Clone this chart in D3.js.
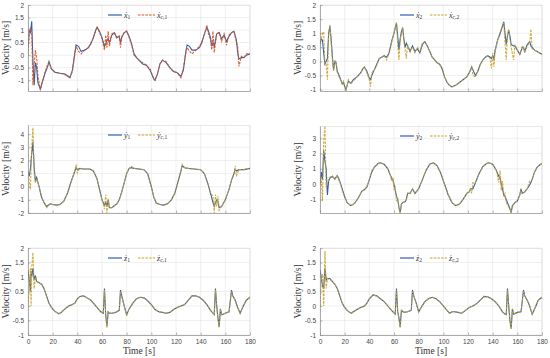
<!DOCTYPE html>
<html>
<head>
<meta charset="utf-8">
<script src="https://cdn.jsdelivr.net/npm/d3@7"></script>
<style>
body { margin: 0; background: #fff; }
svg { display: block; }
</style>
</head>
<body>
<svg id="chart" width="550" height="358"></svg>
<script>
// time ticks, shared by all panels
var timeTicks = [0, 20, 40, 60, 80, 100, 120, 140, 160, 180];
var ticksHalf = [-1, -0.5, 0, 0.5, 1, 1.5, 2];
var ticksY1 = [-2, -1, 0, 1, 2, 3, 4];
var ticksY2 = [-1, 0, 1, 2, 3];

// panel 1 : x velocity, robot 1
var t1 = [0,1,2,3,4,5,6,7,8,10, 12,14,16,17,19,22,26,30,33,34, 36,38,39,41,43,46,49,51,53,55,
  56,58,60,62,63,64,65,66,68,70, 72,74,75,76,78,80,82,84,86,88, 90,93,96,99,102,103,105,107,109,112,
  115,118,121,124,126,128,129,131,133,136, 139,141,143,145,146,148,149,150,151,153,
  155,157,159,161,163,165,167,169,170,171, 173,175,177,180];
var x1 = [0.3,1.0,0.9,1.35,-0.2,-1.2,-0.3,-0.5,-1.1,-1.35, -1.0,-0.7,-0.45,-0.25,-0.55,-0.68,-0.72,-0.75,-0.85,-0.9,
  -0.6,0.1,0.4,0.35,0.15,0.2,0.3,0.45,0.7,1.0, 1.1,0.95,0.7,0.35,0.45,0.6,0.65,0.5,0.8,0.9,
  0.7,0.75,0.5,0.7,0.9,0.95,0.75,0.45,0.05,-0.1, -0.2,-0.35,-0.4,-0.6,-0.95,-1.0,-0.75,-0.35,-0.2,-0.3,
  -0.5,-0.65,-0.7,-0.85,-0.6,0.15,0.4,0.35,0.2,0.2, 0.3,0.5,0.85,1.1,1.0,0.7,0.35,0.5,0.35,0.85,
  0.9,0.65,0.8,0.55,0.75,0.9,0.95,0.6,0.1,-0.15, -0.1,-0.1,0.0,0.05];
var xc1 = [0.0,0.8,1.1,0.9,-1.2,-0.4,0.2,-0.1,-0.8,-1.4, -1.0,-0.65,-0.35,-0.3,-0.55,-0.7,-0.72,-0.78,-0.88,-0.9,
  -0.65,0.05,0.35,0.15,0.05,0.2,0.3,0.5,0.7,1.0, 1.15,0.9,0.65,0.2,0.8,0.3,0.95,0.35,0.85,0.9,
  0.65,0.8,0.3,0.75,0.9,0.97,0.7,0.4,0.0,-0.1, -0.2,-0.3,-0.4,-0.55,-0.95,-1.0,-0.75,-0.35,-0.2,-0.25,
  -0.5,-0.65,-0.7,-0.9,-0.5,0.1,0.3,0.15,0.05,0.2, 0.35,0.55,0.8,1.2,0.9,0.6,0.2,0.95,0.1,0.85,
  0.9,0.55,0.85,0.4,0.8,0.9,0.95,0.5,0.35,-0.45, -0.05,-0.1,0.05,0.05];

// panel 2 : x velocity, robot 2
var t2 = [0,1,2,3,4,5,6,7,8,9, 10,11,12,13,14,16,18,19,21,23, 25,27,30,33,35,36,38,40,41,42,
  44,46,48,50,52,54,56,58,60,62, 63,64,65,66,67,68,69,70,71,73, 75,77,79,81,83,85,87,89,91,93,
  95,97,99,101,103,105,107,110,113,116, 119,121,122,123,124,126,128,130,132,134,
  136,138,139,140,141,142,144,146,148,149, 150,151,152,153,154,155,157,158,160,162,
  164,165,166,168,170,171,172,174,176,178, 180];
var x2 = [0.6,0.8,0.75,0.3,-0.1,0.0,0.1,1.0,1.25,0.8, 0.2,-0.3,0.0,-0.05,-0.35,-0.55,-0.8,-0.75,-1.0,-0.7,
  -0.78,-0.65,-0.55,-0.4,-0.25,-0.2,-0.35,-0.6,-0.65,-0.5, -0.3,-0.1,0.1,0.15,0.2,0.15,0.3,0.7,1.0,1.35,
  0.9,0.4,0.8,1.05,1.2,0.8,0.5,0.65,0.55,0.35, 0.55,0.35,0.45,0.3,0.6,0.7,0.55,0.35,0.15,0.05,
  -0.05,-0.1,-0.25,-0.55,-0.75,-0.85,-0.9,-0.85,-0.75,-0.65, -0.55,-0.4,-0.3,-0.2,-0.3,-0.5,-0.35,-0.1,0.05,0.15,
  0.2,0.15,0.1,0.2,0.1,0.4,0.75,1.0,1.25,1.4, 1.0,0.6,0.9,1.1,0.9,0.6,0.55,0.55,0.4,0.25,
  0.5,0.5,0.35,0.6,0.7,0.55,0.5,0.4,0.35,0.3, 0.25];
var xc2 = [0.8,0.75,1.0,1.05,-0.1,-0.1,-0.65,0.9,1.3,0.7, 0.1,-0.35,0.05,0.0,-0.4,-0.6,-0.8,-0.7,-1.05,-0.65,
  -0.8,-0.7,-0.55,-0.4,-0.25,-0.2,-0.4,-0.65,-0.9,-0.4, -0.3,-0.15,0.1,0.15,0.2,0.05,0.3,0.65,1.0,1.4,
  0.6,0.05,0.75,1.0,1.2,0.7,0.4,0.1,0.6,0.35, 0.5,0.3,0.5,0.35,0.65,0.7,0.55,0.35,0.15,0.05,
  -0.05,-0.1,-0.3,-0.55,-0.75,-0.85,-0.9,-0.85,-0.75,-0.65, -0.55,-0.4,-0.35,-0.15,-0.5,-0.55,-0.35,-0.1,0.05,0.15,
  0.2,0.1,-0.25,0.3,-0.2,0.35,0.75,0.95,1.3,1.35, 0.7,0.05,0.95,1.15,0.8,0.5,0.05,0.6,0.4,0.25,
  0.55,0.5,0.3,0.55,0.65,1.15,0.45,0.4,0.35,0.3, 0.25];

// panel 3 : y velocity, robot 1
var t3 = [0,1,2,3,4,5,6,7,9,11, 13,15,18,20,23,26,29,32,35,38, 39,40,42,45,50,53,56,58,60,62,
  63,64,65,66,68,70,72,74,76,78, 80,82,84,86,90,94,97,100,102,104, 107,110,113,116,119,122,124,125,127,130,
  135,140,143,146,148,150,151,152,153,154, 155,157,160,163,165,167,168,169,171,175, 180];
var y1 = [1.1,0.8,1.4,2.5,3.4,1.5,0.4,0.7,0.0,-0.8, -1.2,-1.5,-1.3,-1.35,-1.4,-1.35,-1.1,-0.5,0.4,1.2,
  1.45,1.3,1.4,1.35,1.35,1.2,0.6,-0.2,-1.0,-1.4, -1.2,-1.5,-1.0,-1.6,-1.6,-1.45,-1.3,-1.0,-0.4,0.3,
  1.0,1.4,1.45,1.4,1.35,1.3,1.0,0.0,-0.8,-1.25, -1.35,-1.4,-1.3,-1.05,-0.5,0.5,1.2,1.6,1.45,1.4,
  1.35,1.3,1.0,0.2,-0.5,-1.2,-1.5,-1.2,-1.0,-1.1, -1.6,-1.5,-1.0,-0.2,0.5,1.0,1.3,1.2,1.3,1.3, 1.4];
var yc1 = [1.2,0.4,-0.2,3.0,4.5,1.0,0.3,0.6,0.0,-0.8, -1.2,-1.6,-1.3,-1.35,-1.4,-1.35,-1.1,-0.5,0.4,1.2,
  1.7,1.05,1.4,1.35,1.35,1.2,0.6,-0.2,-1.0,-1.7, -0.6,-2.0,-0.9,-1.6,-1.6,-1.45,-1.3,-1.0,-0.4,0.3,
  1.0,1.4,1.55,1.4,1.35,1.3,1.0,0.0,-0.8,-1.25, -1.35,-1.4,-1.3,-1.05,-0.5,0.5,1.2,1.7,1.45,1.4,
  1.35,1.3,1.0,0.2,-0.5,-0.7,-2.0,-0.6,-1.5,-0.7, -1.8,-1.5,-1.0,-0.2,0.5,1.0,1.6,0.8,1.3,1.3, 1.4];

// panel 4 : y velocity, robot 2
var t4 = [0,1,2,3,4,5,6,7,8,10, 12,14,15,16,18,20,22,25,28,31, 34,36,38,40,42,44,47,49,52,55,
  57,58,59,60,61,62,63,64,65,66, 67,69,70,71,73,75,77,80,83,86, 89,92,95,98,101,104,107,110,113,116,
  119,121,122,123,124,126,129,132,135,137, 140,143,145,146,147,148,149,150,151,153,
  154,155,156,158,160,162,163,164,166,168, 170,172,174,176,178,180];
var y2 = [0.0,0.8,0.3,2.2,1.5,1.0,-0.7,0.2,0.4,0.5, 0.35,0.55,0.4,0.2,-0.3,-0.8,-1.2,-1.4,-1.25,-0.9,
  -0.45,-0.35,-0.2,0.3,0.8,1.1,1.35,1.4,1.3,1.0, 0.6,0.4,0.3,0.0,-0.4,-0.8,-1.0,-1.5,-1.85,-1.3,
  -1.2,-1.15,-1.0,-0.6,-0.6,-0.3,-0.6,-0.3,0.3,0.9, 1.3,1.4,1.2,0.7,0.0,-0.7,-1.2,-1.4,-1.3,-1.0,
  -0.6,-0.5,-0.3,-0.3,-0.3,0.1,0.7,1.15,1.35,1.4, 1.3,0.9,0.5,0.4,0.0,-0.3,-0.7,-0.8,-1.0,-1.4,
  -1.6,-1.85,-1.4,-1.2,-1.1,-0.7,-0.3,-0.6,-0.5,-0.3, -0.05,0.3,0.8,1.1,1.25,1.35];
var yc2 = [0.3,0.5,-1.1,2.8,3.8,-0.2,0.0,0.3,0.45,0.55, 0.3,0.6,0.3,0.15,-0.4,-0.85,-1.2,-1.4,-1.25,-0.9,
  -0.45,-0.4,-0.15,0.3,0.9,1.1,1.35,1.4,1.3,1.0, 0.6,0.2,0.45,-0.3,-0.2,-1.1,-0.9,-1.6,-1.85,-1.3,
  -1.2,-1.15,-1.0,-0.6,-0.6,-0.3,-0.6,-0.3,0.3,0.9, 1.3,1.4,1.2,0.7,0.0,-0.7,-1.2,-1.4,-1.3,-1.0,
  -0.6,-0.5,-0.3,-0.6,0.1,0.1,0.7,1.15,1.35,1.4, 1.3,0.9,0.1,0.9,-0.4,0.2,-0.8,-0.6,-1.2,-1.5,
  -1.6,-1.85,-1.4,-1.2,-1.1,-0.7,-0.3,-0.6,-0.5,-0.3, 0.2,0.3,0.8,1.1,1.25,1.35];

// panel 5 : z velocity, robot 1
var t5 = [0,1,2,2.5,3,4,5,6,7,9, 11,13,15,17,19,21,23,25,27,30, 33,36,38,40,42,45,48,51,54,57,
  59,61,62,63,64,65,66,68,71,74, 75,76,78,80,82,85,88,91,94,97, 100,103,106,109,112,115,118,121,124,127,
  130,133,136,139,142,145,148,150,151,152, 153,154,155,156,157,160,163,165,166,168, 170,172,174,177,180];
var z1 = [1.25,0.9,0.5,1.2,1.0,1.3,0.9,1.05,0.85,0.8, 0.75,0.6,0.35,0.1,-0.05,-0.15,-0.22,-0.27,-0.22,-0.1,
  0.0,0.05,0.1,0.25,0.33,0.35,0.28,0.2,0.05,-0.1, -0.2,-0.25,0.6,-0.3,-0.7,-0.2,-0.25,-0.25,-0.22,-0.15,
  0.55,0.35,0.0,-0.3,-0.1,0.1,0.25,0.3,0.28,0.18, 0.05,-0.12,-0.2,-0.22,-0.25,-0.22,-0.12,-0.05,0.0,0.05,
  0.2,0.35,0.35,0.3,0.2,0.05,-0.15,-0.25,-0.3,0.6, 0.0,-0.4,-0.72,-0.1,-0.3,-0.25,-0.2,0.55,0.35,0.2,
  -0.05,-0.25,-0.05,0.2,0.3];
var zc1 = [0.0,0.6,1.3,0.0,1.3,1.85,0.6,1.0,0.85,0.8, 0.75,0.6,0.35,0.1,-0.05,-0.15,-0.22,-0.26,-0.22,-0.1,
  0.0,0.05,0.1,0.24,0.32,0.34,0.28,0.2,0.05,-0.1, -0.2,-0.25,0.55,-0.3,-0.75,-0.2,-0.24,-0.25,-0.22,-0.15,
  0.5,0.35,0.0,-0.35,-0.1,0.1,0.25,0.3,0.28,0.18, 0.05,-0.12,-0.2,-0.22,-0.25,-0.22,-0.12,-0.05,0.0,0.05,
  0.2,0.34,0.35,0.3,0.2,0.05,-0.15,-0.25,-0.3,0.55, 0.0,-0.45,-0.75,-0.1,-0.3,-0.25,-0.2,0.5,0.35,0.2,
  -0.05,-0.25,-0.05,0.2,0.3];

// panel 6 : z velocity, robot 2
var t6 = [0,1,2,3,4,5,6,8,10,12, 14,16,18,20,22,24,25.5,27,30,33, 36,38,40,43,46,49,52,55,58,61,
  62,63,64,65,66,68,71,74,75,76, 78,80,82,85,88,91,94,97,100,103, 105,107,109,112,115,118,121,124,127,130,
  133,136,139,142,145,148,150,151,152,153, 154,155,156,157,160,163,165,166,168,170, 172,174,177,180];
var z2 = [1.25,1.0,0.7,0.6,1.3,0.9,0.95,0.95,0.85,0.75, 0.6,0.35,0.1,-0.05,-0.15,-0.22,-0.25,-0.2,-0.12,-0.05,
  0.0,0.1,0.25,0.38,0.35,0.25,0.15,0.0,-0.15,-0.28, 0.6,-0.2,-0.4,-0.72,-0.15,-0.22,-0.2,-0.15,0.55,0.35,
  0.1,-0.2,-0.05,0.15,0.25,0.3,0.25,0.15,0.0,-0.15, -0.25,-0.2,-0.2,-0.22,-0.25,-0.15,-0.05,0.0,0.08,0.2,
  0.33,0.32,0.25,0.15,0.0,-0.2,-0.28,-0.3,0.6,0.0, -0.5,-0.78,-0.1,-0.28,-0.22,-0.2,0.55,0.35,0.2,0.0,
  -0.28,-0.1,0.2,0.3];
var zc2 = [0.0,0.9,1.1,0.0,1.9,0.6,0.95,0.9,0.85,0.75, 0.6,0.35,0.1,-0.05,-0.15,-0.22,-0.25,-0.2,-0.12,-0.05,
  0.0,0.1,0.25,0.37,0.35,0.25,0.15,0.0,-0.15,-0.28, 0.55,-0.2,-0.45,-0.75,-0.15,-0.22,-0.2,-0.15,0.5,0.35,
  0.1,-0.22,-0.05,0.15,0.25,0.3,0.25,0.15,0.0,-0.15, -0.25,-0.2,-0.2,-0.22,-0.25,-0.15,-0.05,0.0,0.08,0.2,
  0.32,0.32,0.25,0.15,0.0,-0.2,-0.28,-0.3,0.55,0.0, -0.55,-0.8,-0.1,-0.28,-0.22,-0.2,0.5,0.35,0.2,0.0,
  -0.28,-0.1,0.2,0.3];

var blue = "#2f5fb3";
var red = "#d95319";
var gold = "#c9a227";

var panels = [
  {t: t1, a: x1, b: xc1, left: 28, top: 5, h: 86, dom: [-1.43, 2], ticks: ticksHalf, sym: "x", n: "1", colB: red},
  {t: t2, a: x2, b: xc2, left: 320, top: 5, h: 86, dom: [-1.05, 2], ticks: ticksHalf, sym: "x", n: "2", colB: gold},
  {t: t3, a: y1, b: yc1, left: 28, top: 125, h: 88, dom: [-2, 4.7], ticks: ticksY1, sym: "y", n: "1", colB: gold},
  {t: t4, a: y2, b: yc2, left: 320, top: 126, h: 87, dom: [-1.88, 3.8], ticks: ticksY2, sym: "y", n: "2", colB: gold},
  {t: t5, a: z1, b: zc1, left: 28, top: 248, h: 87, dom: [-1, 2], ticks: ticksHalf, sym: "z", n: "1", colB: gold, bottom: true},
  {t: t6, a: z2, b: zc2, left: 320, top: 248, h: 87, dom: [-1, 2], ticks: ticksHalf, sym: "z", n: "2", colB: gold, bottom: true}
];

var W = 222;
var svg = d3.select("#chart");
var serif = "'Liberation Serif', 'Times New Roman', serif";
var sans = "'Liberation Sans', Arial, sans-serif";

panels.forEach(function(p, i) {
  var g = svg.append("g").attr("transform", "translate(" + p.left + "," + p.top + ")");
  var x = d3.scaleLinear().domain([0, 180]).range([0, W]);
  var y = d3.scaleLinear().domain(p.dom).range([p.h, 0]);

  // grid
  g.append("g").selectAll("line.gx").data(timeTicks).enter().append("line")
    .attr("x1", function(d) { return x(d); }).attr("x2", function(d) { return x(d); })
    .attr("y1", 0).attr("y2", p.h)
    .attr("stroke", "#e4e4e4").attr("stroke-width", 0.6);
  g.append("g").selectAll("line.gy").data(p.ticks).enter().append("line")
    .attr("x1", 0).attr("x2", W)
    .attr("y1", function(d) { return y(d); }).attr("y2", function(d) { return y(d); })
    .attr("stroke", "#e4e4e4").attr("stroke-width", 0.6);

  // box top/right
  g.append("path").attr("d", "M0,0.5H" + W + "V" + p.h)
    .attr("fill", "none").attr("stroke", "#d6d6d6").attr("stroke-width", 0.6);

  // lines
  g.append("clipPath").attr("id", "clip" + i).append("rect")
    .attr("x", 0).attr("y", 0).attr("width", W).attr("height", p.h);
  var line = function(vals) {
    return d3.line()
      .x(function(d, k) { return x(p.t[k]); })
      .y(function(d) { return y(d); })(vals);
  };
  var lg = g.append("g").attr("clip-path", "url(#clip" + i + ")");
  lg.append("path").attr("d", line(p.a))
    .attr("fill", "none").attr("stroke", blue).attr("stroke-width", 1.1);
  lg.append("path").attr("d", line(p.b))
    .attr("fill", "none").attr("stroke", p.colB).attr("stroke-width", 1.1)
    .attr("stroke-dasharray", "2.5,1.2").attr("opacity", 0.9);

  // axes
  var ax = d3.axisBottom(x).tickValues(timeTicks).tickSizeInner(-2.5).tickSizeOuter(0).tickPadding(4);
  if (!p.bottom) ax.tickFormat("");
  var gx = g.append("g").attr("transform", "translate(0," + p.h + ")").call(ax);
  var ay = d3.axisLeft(y).tickValues(p.ticks).tickSizeInner(-2.5).tickSizeOuter(0).tickPadding(4)
    .tickFormat(function(d) { return String(d); });
  var gy = g.append("g").call(ay);
  [gx, gy].forEach(function(a) {
    a.select(".domain").attr("stroke", "#8a8a8a").attr("stroke-width", 0.7);
    a.selectAll(".tick line").attr("stroke", "#8a8a8a").attr("stroke-width", 0.6);
    a.selectAll(".tick text").attr("fill", "#444").style("font-family", sans).style("font-size", "6.5px");
  });

  // y label
  g.append("text")
    .attr("transform", "translate(-19," + (p.h / 2) + ") rotate(-90)")
    .attr("text-anchor", "middle")
    .style("font-family", serif).style("font-size", "9.5px").attr("fill", "#333")
    .text("Velocity [m/s]");

  if (p.bottom) {
    g.append("text").attr("x", W / 2).attr("y", p.h + 19)
      .attr("text-anchor", "middle")
      .style("font-family", serif).style("font-size", "9.5px").attr("fill", "#333")
      .text("Time [s]");
  }

  // legend
  var lx = W / 2 - 31, ly = 10;
  var leg = g.append("g").attr("transform", "translate(" + lx + "," + ly + ")");
  leg.append("line").attr("x1", 0).attr("x2", 14).attr("y1", 0).attr("y2", 0)
    .attr("stroke", blue).attr("stroke-width", 1.2);
  var l1 = leg.append("text").attr("x", 16).attr("y", 2.5)
    .style("font-family", serif).style("font-size", "8px").attr("fill", "#333");
  l1.append("tspan").style("font-style", "italic").text(p.sym + "\u0307");
  l1.append("tspan").attr("dy", 1.8).style("font-size", "5.5px").text(p.n);
  leg.append("line").attr("x1", 30).attr("x2", 47).attr("y1", 0).attr("y2", 0)
    .attr("stroke", p.colB).attr("stroke-width", 1.2).attr("stroke-dasharray", "2.5,1.2");
  var l2 = leg.append("text").attr("x", 49).attr("y", 2.5)
    .style("font-family", serif).style("font-size", "8px").attr("fill", "#333");
  l2.append("tspan").style("font-style", "italic").text(p.sym + "\u0307");
  l2.append("tspan").attr("dy", 1.8).style("font-size", "5.5px").style("font-style", "italic").text("c");
  l2.append("tspan").style("font-size", "5.5px").text("," + p.n);
});
</script>
</body>
</html>
